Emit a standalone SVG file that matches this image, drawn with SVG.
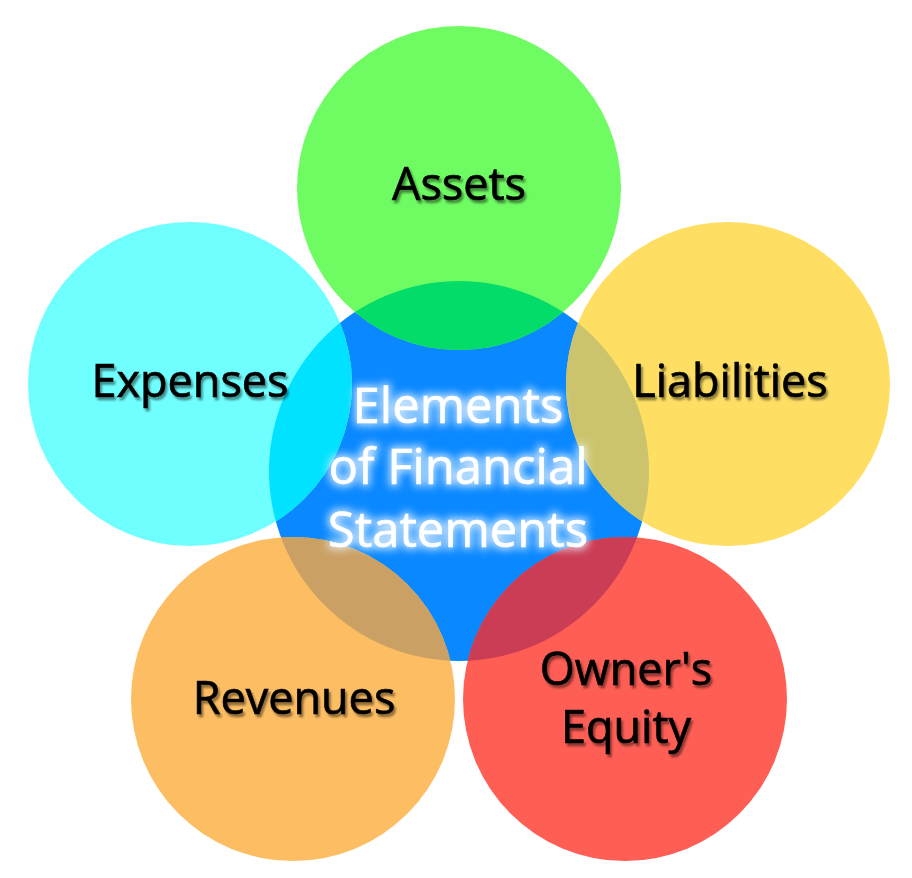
<svg xmlns="http://www.w3.org/2000/svg" width="912" height="878" viewBox="0 0 912 878">
  <style>
    .lbl { font-family: "Open Sans", "Noto Sans", "Liberation Sans", sans-serif; font-size: 45px; fill: #000000; stroke: #000000; stroke-width: 0.7px; text-anchor: middle; filter: url(#shadow); }
    .ctr { font-family: "Open Sans", "Noto Sans", "Liberation Sans", sans-serif; font-size: 49px; fill: #ffffff; stroke: #ffffff; stroke-width: 0.6px; text-anchor: middle; filter: url(#glow); }
  </style>
  <defs>
    <clipPath id="clipCenter">
      <circle cx="459" cy="471" r="190"/>
    </clipPath>
    <filter id="shadow" x="-10%" y="-20%" width="130%" height="150%">
      <feGaussianBlur in="SourceAlpha" stdDeviation="1.3"/>
      <feOffset dx="2" dy="2.5" result="off"/>
      <feFlood flood-color="#000000" flood-opacity="0.45"/>
      <feComposite in2="off" operator="in" result="sh"/>
      <feMerge>
        <feMergeNode in="sh"/>
        <feMergeNode in="SourceGraphic"/>
      </feMerge>
    </filter>
    <filter id="glow" x="-20%" y="-30%" width="140%" height="160%">
      <feMorphology in="SourceAlpha" operator="dilate" radius="2"/>
      <feGaussianBlur stdDeviation="4" result="blur"/>
      <feFlood flood-color="#eef7ff" flood-opacity="0.85"/>
      <feComposite in2="blur" operator="in" result="g"/>
      <feMerge>
        <feMergeNode in="g"/>
        <feMergeNode in="SourceGraphic"/>
      </feMerge>
    </filter>
  </defs>
  <rect x="0" y="0" width="912" height="878" fill="#ffffff"/>

  <g id="center">
    <circle cx="459" cy="471" r="190" fill="#0A88FF"/>
  </g>

  <g id="assets">
    <circle cx="459" cy="188" r="162" fill="#6FFB62"/>
    <circle cx="459" cy="188" r="162" fill="#03DC68" clip-path="url(#clipCenter)"/>
    <text class="lbl" x="459" y="200">Assets</text>
  </g>

  <g id="expenses">
    <circle cx="190" cy="384" r="162" fill="#70FFFF"/>
    <circle cx="190" cy="384" r="162" fill="#00E2FF" clip-path="url(#clipCenter)"/>
    <text class="lbl" x="190" y="397">Expenses</text>
  </g>

  <g id="liabilities">
    <circle cx="728" cy="384" r="162" fill="#FEDF63"/>
    <circle cx="728" cy="384" r="162" fill="#CCC46C" clip-path="url(#clipCenter)"/>
    <text class="lbl" x="730" y="397">Liabilities</text>
  </g>

  <g id="revenues">
    <circle cx="293" cy="699" r="162" fill="#FDBE63"/>
    <circle cx="293" cy="699" r="162" fill="#CAA064" clip-path="url(#clipCenter)"/>
    <text class="lbl" x="294" y="714">Revenues</text>
  </g>

  <g id="owners-equity">
    <circle cx="625" cy="699" r="162" fill="#FF5E55"/>
    <circle cx="625" cy="699" r="162" fill="#CB3C55" clip-path="url(#clipCenter)"/>
    <text class="lbl" x="626" y="685">Owner's</text>
    <text class="lbl" x="626" y="743">Equity</text>
  </g>

  <g id="center-label">
    <text class="ctr" x="458" y="423">Elements</text>
    <text class="ctr" x="458" y="484">of Financial</text>
    <text class="ctr" x="458" y="547">Statements</text>
  </g>

  <g id="connectors"></g>
</svg>
